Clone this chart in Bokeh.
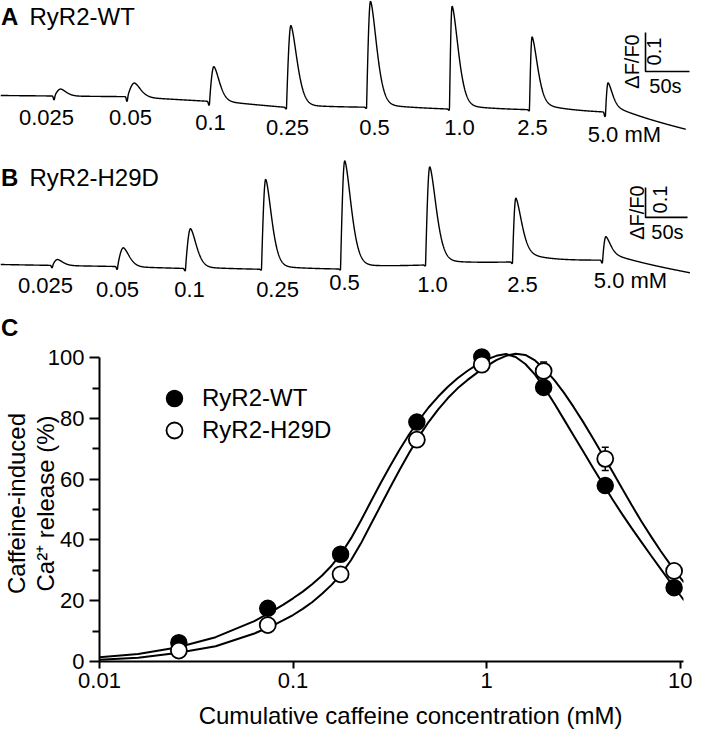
import numpy as np
from bokeh.plotting import figure
from bokeh.layouts import column
from bokeh.models import (FixedTicker, Legend, LegendItem, Range1d,
                          Whisker, TeeHead, ColumnDataSource, CustomJSTickFormatter)
from bokeh.core.properties import value
from bokeh.embed import file_html
from bokeh.resources import INLINE

FONT = "Liberation Sans"

# ---------------- data: traces (panels A and B) ----------------
conc_labels = ["0.025", "0.05", "0.1", "0.25", "0.5", "1.0", "2.5", "5.0 mM"]

# Panel A, RyR2-WT  (time in s, amplitude in dF/F0)
wt_onset_s = [61.4, 144.3, 237.5, 325.0, 416.0, 510.2, 601.1, 687.5]
wt_peak_dff = [0.018, 0.036, 0.090, 0.210, 0.272, 0.264, 0.187, 0.077]
wt_rise_s = [7, 8, 5, 5, 4.5, 3, 3, 3]
wt_decay_s = [9, 10, 9, 10, 10, 10, 9, 7]
wt_slow_frac = [0, 0, 0.04, 0.04, 0.04, 0.05, 0.12, 0.30]
wt_slow_tau = [40, 40, 40, 40, 40, 40, 30, 45]
wt_dip_dff = [0.010, 0.012, 0.010, 0.004, 0.003, 0.003, 0.003, 0.012]
wt_base_t = [0, 144, 237, 325, 416, 510, 601, 687, 779]
wt_base_dff = [0.0, -0.003, -0.015, -0.031, -0.031, -0.036, -0.038, -0.044, -0.090]

# Panel B, RyR2-H29D
h_onset_s = [61.9, 139.3, 220.2, 310.7, 404.8, 506.0, 609.5, 716.7]
h_peak_dff = [0.020, 0.063, 0.133, 0.300, 0.360, 0.327, 0.213, 0.080]
h_rise_s = [6, 7, 6, 5, 5, 5, 4, 4]
h_decay_s = [9, 10, 10, 10, 11, 11, 10, 8]
h_slow_frac = [0, 0, 0.05, 0.05, 0.05, 0.06, 0.20, 0.35]
h_slow_tau = [40, 40, 40, 40, 40, 40, 30, 60]
h_dip_dff = [0.008, 0.010, 0.008, 0.003, 0.003, 0.003, 0.005, 0.010]
h_base_t = [0, 139, 220, 311, 405, 506, 610, 717, 821]
h_base_dff = [0.0, -0.0067, -0.0133, -0.0167, -0.0167, -0.0033, 0.0067, 0.0133, -0.033]

scalebar_dff = 0.1
scalebar_s = 50

# ---------------- data: dose response (panel C) ----------------
conc_mM = [0.0257, 0.074, 0.176, 0.436, 0.944, 1.97, 4.1, 9.3]
wt_release = [6.2, 17.5, 35.3, 78.8, 100.2, 90.2, 57.9, 24.3]
h29d_release = [3.6, 12.0, 28.7, 73.0, 97.7, 95.6, 66.7, 29.8]
h29d_sem = [0, 0, 0, 0, 0, 3.0, 3.8, 0]

fit_log10_conc = [-2.0, -1.8, -1.6, -1.4, -1.2, -1.1, -1.05, -1.0, -0.95, -0.9, -0.85,
                  -0.8, -0.75, -0.7, -0.65, -0.6, -0.55, -0.5, -0.45, -0.4, -0.35,
                  -0.3, -0.25, -0.2, -0.15, -0.1, -0.05, 0.0, 0.05, 0.1, 0.15, 0.2,
                  0.25, 0.3, 0.35, 0.4, 0.45, 0.5, 0.55, 0.6, 0.65, 0.7, 0.75, 0.8,
                  0.85, 0.9, 0.95, 1.0, 1.02]
wt_fit = [1.4, 2.5, 4.6, 8.0, 13.3, 16.8, 18.7, 20.8, 23.0, 25.5, 28.3,
          31.6, 35.6, 40.6, 46.3, 52.4, 58.4, 64.2, 69.7, 74.8, 79.4,
          83.6, 87.2, 90.4, 93.2, 95.6, 97.7, 99.4, 100.6, 101.2, 100.2, 97.9,
          94.4, 89.9, 84.9, 79.6, 74.3, 69.0, 63.7, 58.5, 53.4, 48.5, 43.8, 39.3,
          34.8, 30.4, 26.0, 21.8, 20.1]
h29d_fit = [0.6, 1.2, 2.8, 5.0, 9.2, 12.0, 13.6, 15.3, 17.3, 19.6, 22.3,
            25.3, 28.9, 33.4, 38.8, 44.9, 51.0, 57.1, 63.0, 68.7, 74.0,
            78.8, 83.0, 86.7, 89.9, 92.6, 95.0, 97.2, 99.2, 100.6, 101.3, 100.9,
            99.1, 96.2, 92.6, 88.4, 83.7, 78.7, 73.4, 68.0, 62.5, 56.9, 51.4, 46.1,
            41.1, 36.3, 31.8, 27.6, 26.0]


def build_trace(t, onset, amp, rise, decay, frac, tau, dip, bt, bv):
    y = np.interp(t, bt, bv)
    for on, a, tr, w, f, ts, d in zip(onset, amp, rise, decay, frac, tau, dip):
        s = t - on
        y = y - d * np.exp(-((s + 0.6) / 1.0) ** 2)
        m1 = (s >= 0) & (s < tr)
        y[m1] += a * np.sin(0.5 * np.pi * s[m1] / tr)
        m2 = s >= tr
        u = s[m2] - tr
        y[m2] += a * ((1 - f) * np.exp(-(u / w) ** 1.6) + f * np.exp(-u / ts))
    return y


def txt(p, x, y, s, size="22px", angle=0.0, align="center", bold=False):
    p.text(x=[x], y=[y], text=[s], angle=angle, text_font=value(FONT),
           text_font_size=size, text_align=align, text_baseline="middle",
           text_color="black", text_font_style="bold" if bold else "normal")


def trace_panel(height, x_end, y_start, y_end, t_end, onset, amp, rise, decay, frac,
                tau, dip, bt, bv, letter, name, lab_t, lab_y, sb_t, sb_y, sbtxt):
    p = figure(width=692, height=height, x_range=Range1d(0, x_end),
               y_range=Range1d(y_start, y_end), output_backend="svg",
               toolbar_location=None, min_border=0, frame_align=False)
    p.axis.visible = False
    p.grid.visible = False
    p.outline_line_color = None
    t = np.arange(0, t_end, 0.25)
    y = build_trace(t, onset, amp, rise, decay, frac, tau, dip, bt, bv)
    p.line(t, y, line_color="black", line_width=1.4)
    p.text(x=lab_t, y=lab_y, text=conc_labels, text_font=value(FONT),
           text_font_size="22px", text_align="center", text_baseline="middle",
           text_color="black")
    # scale bar (0.1 dF/F0 and 50 s)
    p.line([sb_t, sb_t, sb_t + scalebar_s], [sb_y + scalebar_dff, sb_y, sb_y],
           line_color="black", line_width=1.6)
    (dt, dy), (vt, vy), (st, sy) = sbtxt
    txt(p, dt, dy, "\u0394F/F0", "20px", np.pi / 2)
    txt(p, vt, vy, "0.1", "20px", np.pi / 2)
    txt(p, st, sy, "50s", "20px")
    txt(p, letter[1], letter[2], letter[0], "24px", align="left", bold=True)
    txt(p, name[1], letter[2], name[0], "24px", align="left")
    return p


pA = trace_panel(148, 786.4, -0.1359, 0.2436, 779, wt_onset_s, wt_peak_dff, wt_rise_s,
                 wt_decay_s, wt_slow_frac, wt_slow_tau, wt_dip_dff, wt_base_t, wt_base_dff,
                 ("A", 0.5, 0.2026), ("RyR2-WT", 33),
                 [52.3, 147.7, 238.6, 326.1, 425.0, 521.6, 604.5, 709.0],
                 [-0.0564, -0.0564, -0.0692, -0.0821, -0.0821, -0.0821, -0.0821, -0.100],
                 733, 0.0615, ((718.2, 0.0872), (743.2, 0.1128), (755.7, 0.0256)))

pB = trace_panel(194, 823.8, -0.26, 0.3867, 821, h_onset_s, h_peak_dff, h_rise_s,
                 h_decay_s, h_slow_frac, h_slow_tau, h_dip_dff, h_base_t, h_base_dff,
                 ("B", 0.5, 0.29), ("RyR2-H29D", 34.5),
                 [53.6, 139.3, 225.0, 329.8, 409.5, 514.3, 621.4, 750.0],
                 [-0.07, -0.083, -0.083, -0.083, -0.06, -0.067, -0.067, -0.053],
                 767.9, 0.157, ((758.3, 0.173), (785.7, 0.2167), (794.0, 0.1067)))
# panel letter C sits just below trace B
txt(pB, 0.5, -0.21, "C", "24px", align="left", bold=True)

# ---------------- panel C ----------------
pC = figure(width=692, height=357, x_axis_type="log", x_range=Range1d(0.01, 10.4),
            y_range=Range1d(0, 104), output_backend="svg", toolbar_location=None,
            min_border_left=89, min_border_right=9, min_border_top=3, min_border_bottom=38,
            frame_align=False)
pC.outline_line_color = None
pC.grid.visible = False

for ax in (pC.xaxis[0], pC.yaxis[0]):
    ax.axis_line_width = 2
    ax.major_tick_line_width = 2
    ax.minor_tick_line_width = 2
    ax.major_tick_in = 0
    ax.minor_tick_in = 0
    ax.major_label_text_font = FONT
    ax.major_label_text_font_size = "22px"
    ax.major_label_text_color = "black"
    ax.axis_line_color = "black"
    ax.major_tick_line_color = "black"
    ax.minor_tick_line_color = "black"

pC.xaxis.ticker = FixedTicker(ticks=[0.01, 0.1, 1, 10], minor_ticks=[])
pC.xaxis.formatter = CustomJSTickFormatter(code="return tick.toString();")
pC.xaxis.major_tick_out = 7
pC.xaxis.major_label_standoff = 4

pC.yaxis.ticker = FixedTicker(ticks=[0, 20, 40, 60, 80, 100], minor_ticks=[10, 30, 50, 70, 90])
pC.yaxis.bounds = (0, 100)
pC.yaxis.major_tick_out = 10
pC.yaxis.minor_tick_out = 7
pC.yaxis.major_label_standoff = 5
pC.yaxis.axis_label = "Caffeine-induced\nCa\u00b2\u207a release (%)"
pC.yaxis.axis_label_text_font = FONT
pC.yaxis.axis_label_text_font_size = "24px"
pC.yaxis.axis_label_text_font_style = "normal"
pC.yaxis.axis_label_text_color = "black"
pC.yaxis.axis_label_text_line_height = 1.05
pC.yaxis.axis_label_standoff = -14

fit_conc = [10 ** v for v in fit_log10_conc]
pC.line(fit_conc, wt_fit, line_color="black", line_width=2)
pC.line(fit_conc, h29d_fit, line_color="black", line_width=2)

err_x = [c for c, e in zip(conc_mM, h29d_sem) if e > 0]
err_up = [v + e for v, e in zip(h29d_release, h29d_sem) if e > 0]
err_lo = [v - e for v, e in zip(h29d_release, h29d_sem) if e > 0]
src_err = ColumnDataSource(dict(x=err_x, up=err_up, lo=err_lo))
pC.add_layout(Whisker(base="x", upper="up", lower="lo", source=src_err,
                      line_color="black", line_width=1.5,
                      upper_head=TeeHead(size=7, line_color="black", line_width=1.5),
                      lower_head=TeeHead(size=7, line_color="black", line_width=1.5)))

r_wt = pC.scatter(conc_mM, wt_release, marker="circle", size=16, fill_color="black",
                  line_color="black", line_width=1.5)
r_h = pC.scatter(conc_mM, h29d_release, marker="circle", size=16, fill_color="white",
                 line_color="black", line_width=1.8)

for lab, rend, loc in (("RyR2-WT", r_wt, (55, 243)), ("RyR2-H29D", r_h, (55, 211))):
    pC.add_layout(Legend(items=[LegendItem(label=lab, renderers=[rend])],
                         location=loc, glyph_width=40, glyph_height=40,
                         padding=0, margin=0, border_line_color=None,
                         background_fill_alpha=0, label_text_font=FONT,
                         label_text_font_size="24px", label_text_color="black",
                         label_standoff=8, label_height=40))

# x-axis title strip
pT = figure(width=692, height=31, x_range=Range1d(0, 1), y_range=Range1d(0, 1),
            output_backend="svg", toolbar_location=None, min_border=0, frame_align=False)
pT.axis.visible = False
pT.grid.visible = False
pT.outline_line_color = None
txt(pT, 0.5925, 0.5, "Cumulative caffeine concentration (mM)", "24px")

layout = column(pA, pB, pC, pT, spacing=0)
open("out.html", "w").write(file_html(layout, INLINE))
